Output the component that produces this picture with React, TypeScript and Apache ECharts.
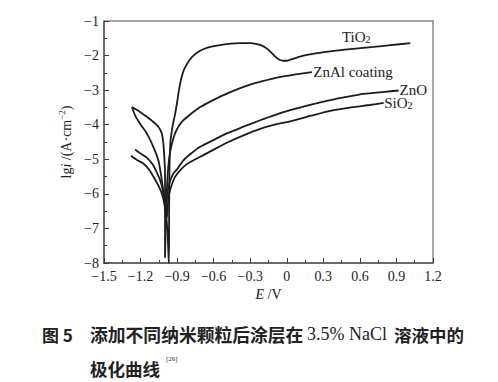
import React, { useEffect, useRef } from 'react';
import * as echarts from 'echarts';

// Tick label values
const xTicks = [-1.5, -1.2, -0.9, -0.6, -0.3, 0, 0.3, 0.6, 0.9, 1.2];
const yTicks = [-8, -7, -6, -5, -4, -3, -2, -1];

// Polarization curves: [E (V), lg i]
const tio2: [number, number][] = [
  [-1.27, -3.49], [-1.245, -3.73], [-1.204, -3.97], [-1.149, -4.25], [-1.095, -4.64], [-1.054, -5.03],
  [-1.034, -5.41], [-1.018, -5.8], [-1.0, -6.3], [-0.985, -6.8], [-0.975, -7.4],
  [-0.968, -8.0], [-0.966, -7.0], [-0.965, -6.0], [-0.962, -5.2], [-0.955, -4.5], [-0.935, -4.0],
  [-0.917, -3.7], [-0.9, -3.35], [-0.885, -3.0], [-0.865, -2.65], [-0.84, -2.38], [-0.8, -2.14],
  [-0.76, -1.98], [-0.711, -1.86], [-0.65, -1.77], [-0.574, -1.71], [-0.48, -1.66], [-0.382, -1.64],
  [-0.3, -1.64], [-0.245, -1.67], [-0.2, -1.72], [-0.163, -1.8], [-0.125, -1.92], [-0.095, -2.03],
  [-0.06, -2.12], [-0.03, -2.15], [0.0, -2.15], [0.028, -2.12], [0.1, -2.04], [0.166, -1.98],
  [0.25, -1.93], [0.357, -1.88], [0.5, -1.82], [0.713, -1.75], [0.85, -1.7], [1.014, -1.64],
];
const znal: [number, number][] = [
  [-1.27, -3.49], [-1.204, -3.63], [-1.149, -3.77], [-1.095, -3.92], [-1.054, -4.06], [-1.026, -4.25],
  [-1.013, -4.54], [-1.005, -4.93], [-0.999, -5.41], [-0.999, -6.5], [-0.999, -7.85], [-0.992, -6.6],
  [-0.983, -5.8], [-0.972, -5.2], [-0.958, -4.8], [-0.935, -4.45], [-0.917, -4.25], [-0.885, -4.03],
  [-0.848, -3.87], [-0.78, -3.67], [-0.711, -3.49], [-0.6, -3.28], [-0.492, -3.1], [-0.382, -2.94],
  [-0.3, -2.84], [-0.218, -2.76], [-0.1, -2.65], [0.028, -2.57], [0.12, -2.52], [0.207, -2.48],
];
const zno: [number, number][] = [
  [-1.245, -4.72], [-1.2, -4.83], [-1.149, -4.95], [-1.1, -5.15], [-1.067, -5.38], [-1.04, -5.6],
  [-1.018, -5.89], [-1.005, -6.2], [-0.995, -6.6], [-0.985, -6.2], [-0.975, -5.9], [-0.955, -5.6],
  [-0.93, -5.41], [-0.903, -5.3], [-0.848, -5.03], [-0.78, -4.82], [-0.711, -4.64], [-0.6, -4.44],
  [-0.492, -4.25], [-0.35, -4.05], [-0.218, -3.87], [-0.1, -3.72], [0.028, -3.58], [0.2, -3.42],
  [0.357, -3.29], [0.5, -3.19], [0.631, -3.11], [0.8, -3.05], [0.918, -3.01],
];
const sio2: [number, number][] = [
  [-1.278, -4.9], [-1.23, -5.02], [-1.177, -5.12], [-1.13, -5.3], [-1.095, -5.5], [-1.06, -5.72],
  [-1.026, -5.99], [-1.0, -6.35], [-0.985, -6.7], [-0.975, -6.3], [-0.965, -6.0], [-0.945, -5.75],
  [-0.917, -5.51], [-0.87, -5.3], [-0.821, -5.14], [-0.75, -5.0], [-0.684, -4.88], [-0.6, -4.72],
  [-0.492, -4.52], [-0.35, -4.3], [-0.218, -4.12], [-0.1, -4.0], [0.028, -3.9], [0.2, -3.74],
  [0.357, -3.6], [0.55, -3.49], [0.68, -3.43], [0.795, -3.37],
];

const seriesNames = ['TiO2', 'ZnAl coating', 'ZnO', 'SiO2'];
const seriesData = [tio2, znal, zno, sio2];
const seriesLabels = ['TiO{s|2}', 'ZnAl coating', 'ZnO', 'SiO{s|2}'];

export default function App() {
  const ref = useRef<HTMLDivElement>(null);
  useEffect(() => {
    const chart = echarts.init(ref.current!, null, { renderer: 'svg' });
    const serif = '"Liberation Serif", "Times New Roman", serif';
    const cjk = '"Noto Sans CJK SC", sans-serif';
    const axisDark = '#3a3a3a';
    const axisLight = '#8a8a8a';
    const xMin = xTicks[0], xMax = xTicks[xTicks.length - 1];
    const yMin = yTicks[0], yMax = yTicks[yTicks.length - 1];
    const minus = (s: string) => s.replace('-', '\u2212');
    const xFmt = (v: number) => (Math.abs(v) < 1e-9 ? '0' : minus(v.toFixed(1)));
    const yFmt = (v: number) => minus(String(Math.round(v)));

    chart.setOption({
      animation: false,
      backgroundColor: '#fff',
      grid: { left: 104, right: 65, top: 21, bottom: 119 },
      xAxis: [
        {
          type: 'value', min: xMin, max: xMax, interval: 0.3,
          name: '{i|E} /V', nameLocation: 'middle', nameGap: 16,
          nameTextStyle: {
            fontFamily: serif, fontSize: 14, color: '#222',
            rich: { i: { fontFamily: serif, fontSize: 14, fontStyle: 'italic', color: '#222' } },
          },
          axisLine: { lineStyle: { color: axisDark, width: 1.5 } },
          axisTick: { inside: true, length: 5, lineStyle: { color: axisDark, width: 1 } },
          minorTick: { show: true, splitNumber: 2, length: 3, lineStyle: { color: axisDark, width: 1 } },
          axisLabel: { formatter: xFmt, fontFamily: serif, fontSize: 14, color: '#222', margin: 6 },
          splitLine: { show: false },
        },
        {
          type: 'value', min: xMin, max: xMax, position: 'top',
          axisLine: { onZero: false, lineStyle: { color: axisLight, width: 1.5 } },
          axisTick: { show: false }, axisLabel: { show: false }, splitLine: { show: false },
        },
      ],
      yAxis: [
        {
          type: 'value', min: yMin, max: yMax, interval: 1,
          name: '{n|lg}{i|i}{n| /(A\u00b7cm}{s|\u22122}{n|)}', nameLocation: 'middle', nameGap: 29, nameRotate: 90,
          nameTextStyle: {
            fontFamily: serif, fontSize: 14, color: '#222',
            rich: {
              n: { fontFamily: serif, fontSize: 14, color: '#222', lineHeight: 18 },
              i: { fontFamily: serif, fontSize: 14, fontStyle: 'italic', color: '#222', lineHeight: 18 },
              s: { fontFamily: serif, fontSize: 9, color: '#222', verticalAlign: 'top' },
            },
          },
          axisLine: { onZero: false, lineStyle: { color: axisDark, width: 1.5 } },
          axisTick: { inside: true, length: 5, lineStyle: { color: axisDark, width: 1 } },
          minorTick: { show: true, splitNumber: 2, length: 3, lineStyle: { color: axisDark, width: 1 } },
          axisLabel: { formatter: yFmt, fontFamily: serif, fontSize: 14, color: '#222', margin: 5 },
          splitLine: { show: false },
        },
        {
          type: 'value', min: yMin, max: yMax, position: 'right',
          axisLine: { show: true, onZero: false, lineStyle: { color: axisLight, width: 1.5 } },
          axisTick: { show: false }, axisLabel: { show: false }, splitLine: { show: false },
        },
      ],
      series: seriesData.map((d, k) => ({
        name: seriesNames[k],
        type: 'line',
        data: d,
        xAxisIndex: 0,
        yAxisIndex: 0,
        symbol: 'none',
        smooth: 0.25,
        lineStyle: { color: '#1c1c1c', width: 1.8 },
      })),
    });

    // label anchors (left-middle of text) in data units
    const anchors: [number, number][] = [[0.453, -1.46], [0.217, -2.48], [0.925, -3.0], [0.8, -3.38]];
    const labelGraphics = anchors.map((a, k) => {
      const p = chart.convertToPixel({ xAxisIndex: 0, yAxisIndex: 0 }, a) as number[];
      return {
        type: 'text', x: p[0], y: p[1],
        style: {
          text: seriesLabels[k], fontFamily: serif, fontSize: 15, fill: '#222',
          align: 'left', verticalAlign: 'middle',
          rich: {
            s: { fontFamily: serif, fontSize: 10, fill: '#222', verticalAlign: 'bottom' },
          },
        },
      };
    });

    const capY1 = 334, capY2 = 368;
    chart.setOption({
      graphic: [
        ...labelGraphics,
        { type: 'text', x: 42, y: capY1, style: { text: '图 5', fontFamily: cjk, fontWeight: 'bold', fontSize: 17, fill: '#222', verticalAlign: 'middle' } },
        { type: 'text', x: 90, y: capY1, style: { text: '添加不同纳米颗粒后涂层在', fontFamily: cjk, fontWeight: 'bold', fontSize: 17.8, fill: '#222', verticalAlign: 'middle' } },
        { type: 'text', x: 307, y: capY1, style: { text: '3.5% NaCl', fontFamily: serif, fontSize: 18, fill: '#222', verticalAlign: 'middle' } },
        { type: 'text', x: 394, y: capY1, style: { text: '溶液中的', fontFamily: cjk, fontWeight: 'bold', fontSize: 17.5, fill: '#222', verticalAlign: 'middle' } },
        { type: 'text', x: 90, y: capY2, style: { text: '极化曲线', fontFamily: cjk, fontWeight: 'bold', fontSize: 17.5, fill: '#222', verticalAlign: 'middle' } },
        { type: 'text', x: 166, y: 359, style: { text: '[26]', fontFamily: serif, fontSize: 7, fill: '#333', verticalAlign: 'middle' } },
      ],
    });

    return () => chart.dispose();
  }, []);
  return (
    <div
      ref={ref}
      style={{ position: 'fixed', left: 0, top: 0, width: 498, height: 382, background: '#fff' }}
    />
  );
}
